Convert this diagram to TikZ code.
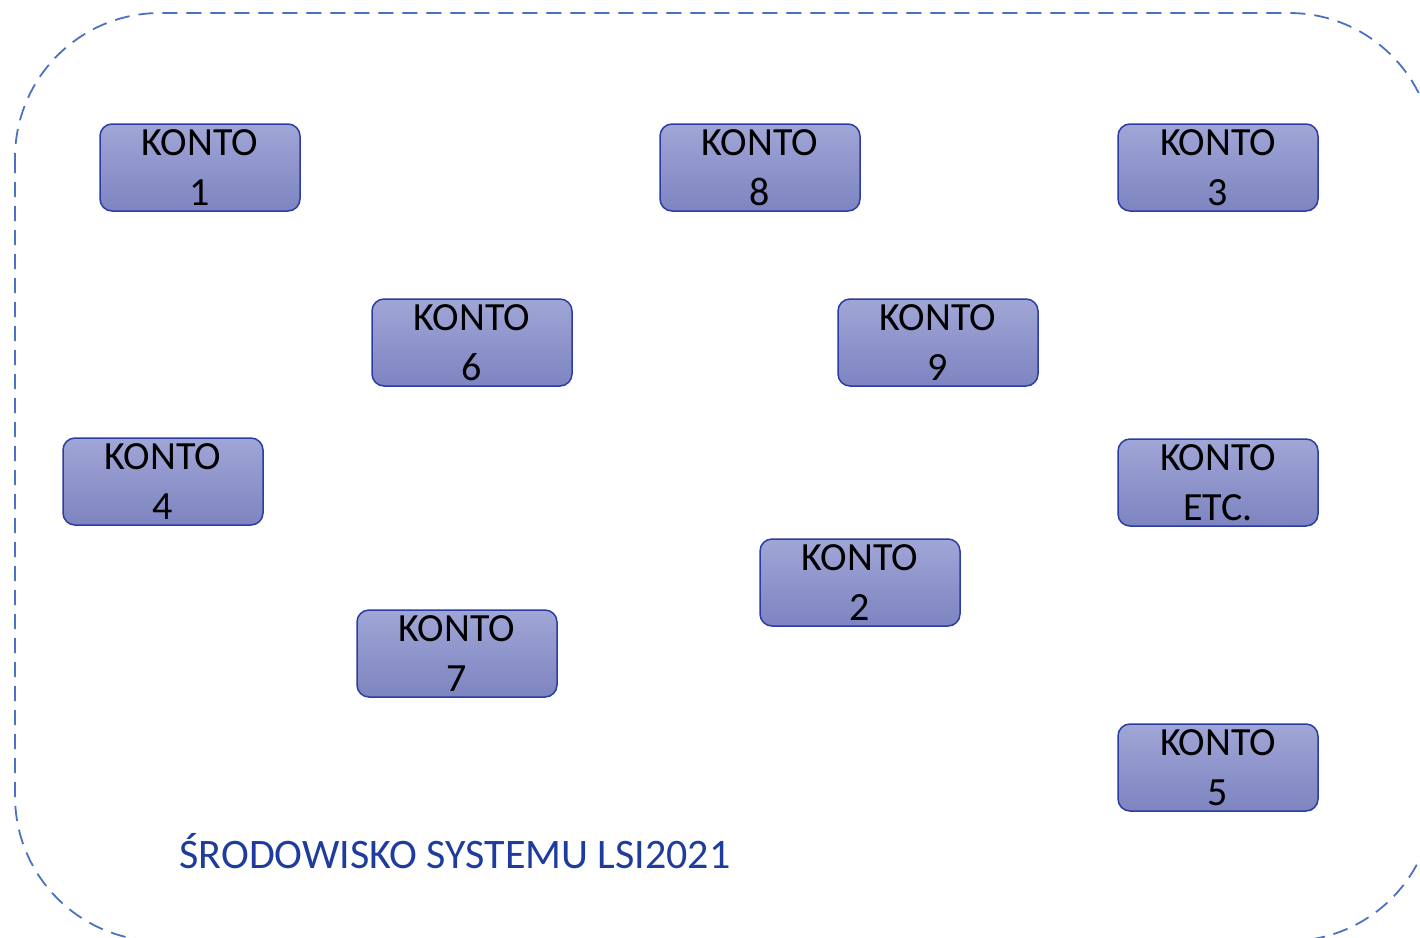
\documentclass[tikz,border=0pt]{standalone}
\usepackage{fontspec}
\setmainfont{Carlito}
\definecolor{ramka}{HTML}{4A72C0}
\definecolor{kontotop}{HTML}{A0A6D6}
\definecolor{kontobot}{HTML}{7D84C0}
\definecolor{kontoedge}{HTML}{2B3DA3}
\definecolor{tytul}{HTML}{1E3C9E}
\tikzset{
	konto/.style={draw=kontoedge,line width=1.5pt,rounded corners=12pt,
		top color=kontotop,bottom color=kontobot,
		minimum width=200pt,minimum height=87pt,inner sep=0pt,
		align=center,font=\fontsize{40}{50}\selectfont}
}
\begin{document}
\begin{tikzpicture}[x=1pt,y=-1pt]
	\useasboundingbox (0,0) rectangle (1420,937);
	\clip (0,0) rectangle (1420,937);
	% srodowisko
	\draw[ramka,line width=1.8pt,dash pattern=on 15pt off 9pt,rounded corners=145pt]
		(15,13) rectangle (1434,941);
	\node[anchor=base west,text=tytul,font=\fontsize{42}{50}\selectfont] (tytul) at (176,868)
		{ŚRODOWISKO SYSTEMU LSI2021};
	% konta
	\node[konto] (k1) at (200,167.5) {KONTO\\1};
	\node[konto] (k8) at (760,167.5) {KONTO\\8};
	\node[konto] (k3) at (1218,167.5) {KONTO\\3};
	\node[konto] (k6) at (472,342.5) {KONTO\\6};
	\node[konto] (k9) at (938,342.5) {KONTO\\9};
	\node[konto] (k4) at (163,481.5) {KONTO\\4};
	\node[konto] (ketc) at (1218,482.5) {KONTO\\ETC.};
	\node[konto] (k2) at (860,582.5) {KONTO\\2};
	\node[konto] (k7) at (457,653.5) {KONTO\\7};
	\node[konto] (k5) at (1218,767.5) {KONTO\\5};
\end{tikzpicture}
\end{document}
